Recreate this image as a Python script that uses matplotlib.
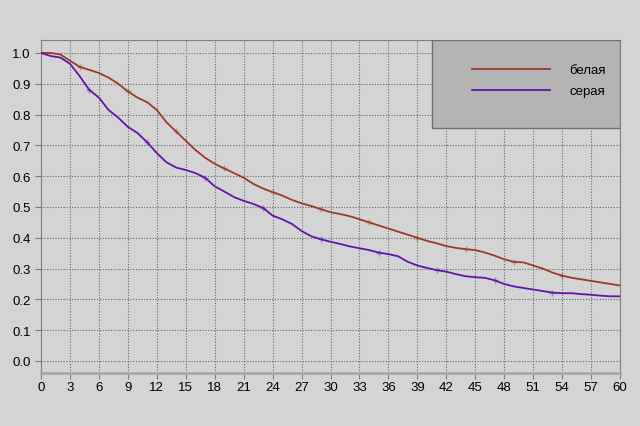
import numpy as np
import matplotlib.pyplot as plt
from matplotlib.patches import Rectangle

plt.rcParams['font.family'] = ['Liberation Sans', 'DejaVu Sans']

# time points (months)
t = list(range(0, 61))

belaya = [1.0, 1.0, 0.995, 0.975, 0.955, 0.945, 0.935, 0.92, 0.90, 0.875,
          0.855, 0.84, 0.815, 0.775, 0.745, 0.715, 0.685, 0.66, 0.64, 0.625,
          0.61, 0.595, 0.575, 0.56, 0.548, 0.537, 0.523, 0.512, 0.503, 0.493,
          0.483, 0.477, 0.47, 0.46, 0.45, 0.44, 0.43, 0.42, 0.41, 0.40,
          0.39, 0.382, 0.373, 0.367, 0.363, 0.36, 0.352, 0.342, 0.33, 0.322,
          0.32, 0.31, 0.30, 0.287, 0.277, 0.27, 0.265, 0.26, 0.255, 0.25,
          0.245]

seraya = [1.0, 0.99, 0.985, 0.965, 0.925, 0.88, 0.855, 0.815, 0.79, 0.76,
          0.74, 0.71, 0.675, 0.645, 0.628, 0.62, 0.61, 0.595, 0.567, 0.55,
          0.532, 0.52, 0.51, 0.497, 0.472, 0.46, 0.445, 0.422, 0.405, 0.395,
          0.387, 0.38, 0.372, 0.366, 0.36, 0.352, 0.347, 0.34, 0.322, 0.31,
          0.302, 0.295, 0.29, 0.282, 0.275, 0.272, 0.27, 0.262, 0.25, 0.242,
          0.237, 0.232, 0.227, 0.222, 0.22, 0.22, 0.217, 0.215, 0.212, 0.21,
          0.21]

labels = ['белая', 'серая']
brown = '#9c3a2a'
purple = '#6414a8'

fig = plt.figure(figsize=(6.4, 4.27), dpi=100, facecolor='#d4d4d4')
ax = fig.add_axes([41/640, 53/427, 579/640, 333/427])
ax.set_facecolor('#d4d4d4')

ax.plot(t, belaya, color=brown, lw=1.3, label=labels[0], zorder=3)
ax.plot(t, seraya, color=purple, lw=1.3, label=labels[1], zorder=3)

# censor marks
ax.plot(t[4:58:5], belaya[4:58:5], '+', color=brown, ms=5, alpha=0.45, zorder=3)
ax.plot(t[5:58:6], seraya[5:58:6], '+', color=purple, ms=5, alpha=0.45, zorder=3)

ax.set_xlim(0, 60)
ax.set_ylim(-0.039, 1.042)
ax.set_xticks(range(0, 61, 3))
ax.set_yticks(np.arange(0, 1.01, 0.1))
ax.set_yticklabels(['%.1f' % v for v in np.arange(0, 1.01, 0.1)])
ax.grid(True, color='#6a6a6a', ls=(0, (1, 1.5)), lw=0.8)
ax.tick_params(labelsize=9.5, colors='#000000', color='#808080', length=4)
ax.tick_params(axis='x', pad=2)
for s in ax.spines.values():
    s.set_color('#808080')
ax.spines['bottom'].set_color('#a8a8a8')
ax.spines['bottom'].set_linewidth(2)

ax.add_patch(Rectangle((0.675, 0.736), 0.325, 0.264, transform=ax.transAxes,
                       facecolor='#b4b4b4', edgecolor='#707070', lw=1, zorder=5))
leg = fig.legend(loc='upper left', bbox_to_anchor=(472/640, (427-65)/427),
                 frameon=False, fontsize=9.5, handlelength=5.9,
                 handletextpad=1.5, labelspacing=0.67, borderpad=0,
                 borderaxespad=0)
leg.set_zorder(6)

fig.savefig('out.png', dpi=100, facecolor=fig.get_facecolor())
